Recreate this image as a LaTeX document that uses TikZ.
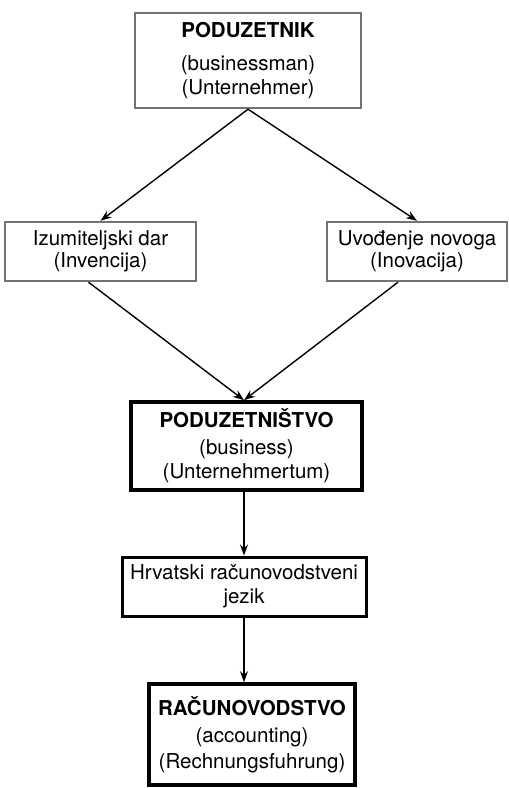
\documentclass[tikz,border=0pt]{standalone}
\usepackage{fontspec}
\setmainfont{TeX Gyre Heros}
\usetikzlibrary{arrows.meta}

\tikzset{
  greybox/.style={draw=black!55, line width=2.4pt, align=center, inner sep=0pt},
  heavybox/.style={draw, line width=3.6pt, align=center, inner sep=0pt},
  midbox/.style={draw, line width=3pt, align=center, inner sep=0pt},
  flow/.style={-{Stealth[length=11pt,width=8pt]}, line width=1.4pt}
}

\begin{document}
\begin{tikzpicture}[x=1pt, y=-1pt, font=\fontsize{20.5}{24}\selectfont]
    \useasboundingbox (0,0) rectangle (509,788);

    % top and side boxes
    \node[greybox, minimum width=226pt, minimum height=95pt] (boss) at (248,60.5)
        {\textbf{PODUZETNIK}\\[9pt](businessman)\\(Unternehmer)};
    \node[greybox, minimum width=191pt, minimum height=59pt] (invent) at (100.5,251.5)
        {Izumiteljski dar\\[-2pt](Invencija)};
    \node[greybox, minimum width=180pt, minimum height=59pt] (innov) at (417,251.5)
        {Uvođenje novoga\\[-2pt](Inovacija)};

    % middle column
    \node[heavybox, minimum width=231pt, minimum height=88pt] (business) at (246.5,446)
        {\textbf{PODUZETNIŠTVO}\\[3pt](business)\\(Unternehmertum)};
    \node[midbox, minimum width=244pt, minimum height=59pt] (lang) at (244,586.5)
        {Hrvatski računovodstveni\\jezik};
    \node[heavybox, minimum width=206pt, minimum height=101pt] (acc) at (252,734.5)
        {\textbf{RAČUNOVODSTVO}\\[3pt](accounting)\\[2pt](Rechnungsfuhrung)};

    \coordinate (meet) at (lang.north |- business.north);

    \draw[flow] (boss.south) -- (invent.north);
    \draw[flow] (boss.south) -- (innov.north);
    \draw[flow] ([xshift=-12pt]invent.south) -- (meet);
    \draw[flow] ([xshift=-19pt]innov.south) -- (meet);
    \draw[flow] (lang.north |- business.south) -- (lang.north);
    \draw[flow] (lang.south) -- (lang.south |- acc.north);
\end{tikzpicture}
\end{document}
